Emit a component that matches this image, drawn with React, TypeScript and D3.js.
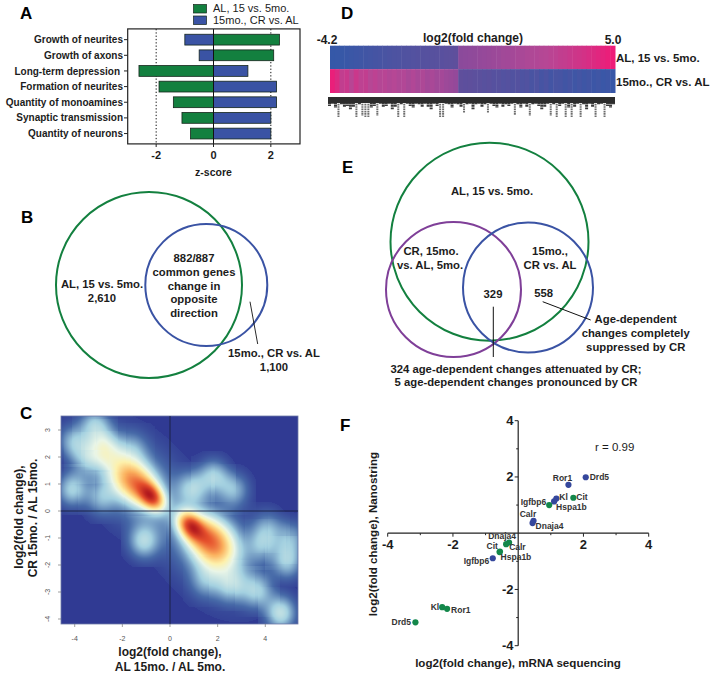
import React, { useMemo } from "react";
import * as d3 from "d3";

const GREEN = "#13803f";
const BLUE = "#3a53a4";
const PURPLE = "#7f3f98";
const FONT = "'Liberation Sans', Arial, sans-serif";
const INK = "#1c1c1c";

// Panel A
const pathways = ["Growth of neurites", "Growth of axons", "Long-term depression", "Formation of neurites", "Quantity of monoamines", "Synaptic transmission", "Quantity of neurons"];
const alAgeZ = [2.3, 2.1, -2.6, -1.9, -1.4, -1.1, -0.8];
const crZ = [-1.0, -0.5, 1.2, 2.2, 2.2, 2.0, 2.0];
const zTicks = [-2, 0, 2];
const legendA = ["AL, 15 vs. 5mo.", "15mo., CR vs. AL"];

// Panel C: density kernels [x, y, amplitude]
const outlierX = [-4.05, -3.15, -2.8, -3.5, -2.6, -4.1, -2.9, -1.1, 1.84, 0.93, 2.68, 3.66, 4.65, 4.93, 5.06, 3.9, 2.6, 1.5, 4.1, -1.6];
const outlierY = [2.58, 3.2, 2.45, 1.96, 2.0, 0.8, 0.48, -1.12, 1.28, 0.85, 0.8, -2.97, -3.78, -1.86, -1.0, -1.25, -2.75, -2.6, -0.6, 2.3];
const outlierA = [0.16, 0.17, 0.17, 0.15, 0.12, 0.2, 0.13, 0.2, 0.19, 0.17, 0.16, 0.17, 0.24, 0.19, 0.15, 0.14, 0.15, 0.1, 0.12, 0.09];
const ridgeX = [-0.76, -1.25, -1.85, -1.5, 0.86, 1.5, 2.05, 1.8];
const ridgeY = [0.52, 0.9, 1.3, 1.1, -0.55, -0.95, -1.4, -1.4];
const ridgeA = [0.6, 0.36, 0.28, 0.16, 0.62, 0.38, 0.3, 0.16];
const ridgeAlong = [0.4, 0.55, 0.55, 1.4, 0.42, 0.6, 0.62, 1.5];
const ridgeAcross = [0.28, 0.46, 0.5, 0.95, 0.3, 0.5, 0.58, 1.0];
const densityStops = [0, 0.08, 0.2, 0.32, 0.42, 0.58, 0.78, 1];
const densityColors = ["#303a93", "#476aa8", "#a3d0e0", "#e9f5e7", "#fdf1ac", "#fbb25f", "#e5502c", "#ad141c"];
const cTicksX = [-4, -2, 0, 2, 4];
const cTicksY = [-4, -3, -2, -1, 0, 1, 2, 3];

// Panel D
const rowTop = [-4.2, -4.1, -4.0, -3.8, -3.6, -3.4, -3.2, -3.0, -2.8, -2.6, -2.4, -2.2, -2.1, -1.9, -1.8, -1.6, -1.5, -1.3, -1.2, -1.1, -1.0, -0.9, -0.8, -0.7, -0.5, -0.4, -0.2, 0.1, 0.2, 0.3, 0.4, 0.6, 0.7, 0.8, 1.0, 1.1, 1.3, 1.4, 1.5, 1.7, 1.8, 2.0, 2.1, 2.2, 2.4, 2.5, 2.7, 2.8, 3.0, 3.1, 3.3, 3.5, 3.6, 3.8, 4.0, 4.2, 4.4, 4.6, 4.8, 5.0];
const rowBottom = [4.8, 4.2, 3.0, 3.3, 2.6, 3.4, 2.8, 3.0, 2.5, 2.8, 2.4, 2.6, 2.2, 2.5, 2.1, 2.3, 1.8, 2.2, 1.7, 2.0, 1.5, 1.8, 1.3, 1.5, 1.1, 0.9, 0.6, -0.1, -0.3, -0.2, -0.4, -0.5, -0.8, -0.6, -1.0, -0.9, -1.3, -1.1, -1.5, -1.2, -1.8, -1.5, -2.2, -1.7, -2.5, -2.0, -2.8, -2.2, -2.4, -3.0, -2.5, -3.2, -2.7, -3.3, -2.9, -3.5, -3.1, -3.7, -3.4, -3.9];
const foldStops = [-4.2, -0.1, 0.1, 2.5, 5];
const foldColors = ["#3558a8", "#5f4f9c", "#8b4a9b", "#b64795", "#ee1c78"];
const geneStems = [8, 6, 10, 18, 7, 9, 8, 11, 9, 18, 7, 17, 18, 18, 10, 8, 17, 6, 9, 8, 6, 11, 9, 18, 7, 18, 6, 8, 10, 6, 7, 9, 6, 9, 11, 6, 8, 18, 18, 6, 7, 10, 6, 7, 9, 14, 7, 6, 11, 7, 6, 9, 7, 14, 6, 8, 10, 6, 9, 7, 8, 6, 16, 7, 10, 6, 9, 17, 7, 6, 8, 11, 9, 6, 17, 7, 18, 8, 6, 18, 10, 18, 9, 6, 18, 7, 11, 6, 9, 18, 7, 6, 18, 8, 10, 7];

// Panel F
const genesBlue = ["Drd5", "Ror1", "Kl", "Hspa1b", "Calr", "Dnaja4", "Igfbp6"];
const blueX = [2.07, 1.54, 1.17, 1.1, 0.47, 0.44, -0.78];
const blueY = [1.99, 1.72, 1.23, 1.13, 0.44, 0.36, -0.89];
const genesGreen = ["Cit", "Igfbp6", "Dnaja4", "Calr", "Cit", "Hspa1b", "Kl", "Ror1", "Drd5"];
const greenX = [1.69, 0.95, -0.28, -0.37, -0.56, -0.57, -2.33, -2.18, -3.15];
const greenY = [1.26, 1.0, -0.33, -0.39, -0.65, -0.67, -2.63, -2.69, -3.17];
const fTicks = [-4, -2, 2, 4];
const fMinor = [-3, -1, 1, 3];

const labelsBlue: [number, number, string][] = [[4, 3, "start"], [-6, -3.6, "middle"], [3, 1, "start"], [2, 9, "start"], [-5.6, -3.6, "middle"], [3, 6, "start"], [-3.6, 6, "end"]];
const labelsGreen: [number, number, string][] = [[3, 2.6, "start"], [-3, 0, "end"], [-7, -3, "middle"], [3, 6, "start"], [-2, -2.6, "end"], [1, 7.6, "start"], [-3, 3, "end"], [4, 4, "start"], [-4.5, 3, "end"]];

const T = (p: any) => <text fontFamily={FONT} fill={INK} fontWeight={700} {...p} />;

function PanelA() {
  const x = d3.scaleLinear().domain([-3, 3]).range([127.5, 299.5]);
  const y = d3.scaleBand<string>().domain(pathways).range([29.4, 143.8]).padding(0.31);
  const yC = (p: string) => y(p)! + y.bandwidth() / 2;
  const bar = (v: number, p: string, c: string) => (
    <rect key={p + c} x={Math.min(x(0), x(v))} width={Math.abs(x(v) - x(0))} y={y(p)} height={y.bandwidth()} fill={c} stroke="#16261c" strokeWidth={0.8} />
  );
  return (
    <g>
      {[-2, 2].map((t) => <line key={t} x1={x(t)} x2={x(t)} y1={29} y2={144} stroke="#111" strokeWidth={1} strokeDasharray="1.3 2" />)}
      {pathways.map((p, i) => bar(alAgeZ[i], p, GREEN))}
      {pathways.map((p, i) => bar(crZ[i], p, BLUE))}
      <line x1={x(0)} x2={x(0)} y1={29} y2={144} stroke="#111" strokeWidth={1} />
      <rect x={127.7} y={28.9} width={172.3} height={115} fill="none" stroke="#222" strokeWidth={1.2} />
      {pathways.map((p) => (
        <g key={p}>
          <line x1={124} x2={127.7} y1={yC(p)} y2={yC(p)} stroke="#222" />
          <T x={p === "Long-term depression" ? 120 : 123} y={yC(p) + 3.6} textAnchor="end" fontSize={10}>{p}</T>
        </g>
      ))}
      {zTicks.map((t) => (
        <g key={t}>
          <line x1={x(t)} x2={x(t)} y1={144} y2={147} stroke="#222" />
          <T x={x(t)} y={159} textAnchor="middle" fontSize={11}>{t}</T>
        </g>
      ))}
      <T x={213.5} y={176} textAnchor="middle" fontSize={10.5}>z-score</T>
      {legendA.map((l, i) => (
        <g key={l}>
          <rect x={193.5} y={4.5 + i * 11.5} width={13} height={8.5} fill={i ? BLUE : GREEN} stroke="#16261c" strokeWidth={0.7} />
          <T x={213} y={12 + i * 11.5} fontSize={11} fontWeight={400}>{l}</T>
        </g>
      ))}
    </g>
  );
}

function PanelB() {
  return (
    <g>
      <circle cx={149} cy={285} r={93} fill="none" stroke={GREEN} strokeWidth={2} />
      <circle cx={206.3} cy={285} r={61} fill="none" stroke={BLUE} strokeWidth={2} />
      <line x1={250} y1={301.7} x2={257.7} y2={344} stroke="#111" strokeWidth={0.9} />
      <T x={102} y={288} textAnchor="middle" fontSize={11.3}>AL, 15 vs. 5mo.</T>
      <T x={102} y={302} textAnchor="middle" fontSize={11.3}>2,610</T>
      {["882/887", "common genes", "change in", "opposite", "direction"].map((s, i) => (
        <T key={s} x={194} y={262 + i * 13.8} textAnchor="middle" fontSize={11.3}>{s}</T>
      ))}
      <T x={274} y={357} textAnchor="middle" fontSize={11.3}>15mo., CR vs. AL</T>
      <T x={274} y={370.5} textAnchor="middle" fontSize={11.3}>1,100</T>
    </g>
  );
}

function PanelC() {
  const x = d3.scaleLinear().domain([-4, 4]).range([74.7, 265.3]);
  const y = d3.scaleLinear().domain([3, -4]).range([430, 619]);
  const L = 61, R = 298, TOP = 416, B = 624;
  const color = d3.scaleLinear<string>().domain(densityStops).range(densityColors).clamp(true);
  const href = useMemo(() => {
    const w = R - L, h = B - TOP;
    const cv = document.createElement("canvas");
    cv.width = w; cv.height = h;
    const ctx = cv.getContext("2d")!;
    const img = ctx.createImageData(w, h);
    const c = Math.cos(Math.atan2(-0.85, 1)), s = Math.sin(Math.atan2(-0.85, 1));
    for (let j = 0; j < h; j++) {
      const vy = y.invert(TOP + j + 0.5);
      for (let i = 0; i < w; i++) {
        const vx = x.invert(L + i + 0.5);
        let d = 0;
        ridgeX.forEach((cx, k) => {
          const dx = vx - cx, dy = vy - ridgeY[k];
          const u = dx * c + dy * s, v = -dx * s + dy * c;
          d += ridgeA[k] * Math.exp(-0.5 * ((u * u) / ridgeAlong[k] ** 2 + (v * v) / ridgeAcross[k] ** 2));
        });
        outlierX.forEach((cx, k) => {
          const dx = vx - cx, dy = vy - outlierY[k];
          if (Math.abs(dx) < 0.95 && Math.abs(dy) < 0.95) d += outlierA[k] * Math.exp(-0.5 * (dx * dx + dy * dy) / 0.19);
        });
        if (d < 0.014) d = 0;
        const rgb = d3.rgb(color(d));
        const o = (j * w + i) * 4;
        img.data[o] = rgb.r; img.data[o + 1] = rgb.g; img.data[o + 2] = rgb.b; img.data[o + 3] = 255;
      }
    }
    ctx.putImageData(img, 0, 0);
    return cv.toDataURL();
  }, []);
  return (
    <g>
      <image href={href} x={L} y={TOP} width={R - L} height={B - TOP} />
      <rect x={L} y={TOP} width={R - L} height={B - TOP} fill="none" stroke="#6f7ca8" strokeWidth={0.8} />
      <line x1={L} x2={R} y1={y(0)} y2={y(0)} stroke="#1a2040" strokeWidth={0.9} />
      <line x1={x(0)} x2={x(0)} y1={TOP} y2={B} stroke="#1a2040" strokeWidth={0.9} />
      {cTicksX.map((t) => (
        <g key={t}>
          <line x1={x(t)} x2={x(t)} y1={B} y2={B + 3} stroke="#777" strokeWidth={0.7} />
          <text x={x(t)} y={641} textAnchor="middle" fontSize={7} fontFamily={FONT} fill="#555">{t}</text>
        </g>
      ))}
      {cTicksY.map((t) => (
        <g key={t}>
          <line x1={L - 3} x2={L} y1={y(t)} y2={y(t)} stroke="#777" strokeWidth={0.7} />
          <text transform={`translate(50,${y(t)}) rotate(-90)`} textAnchor="middle" fontSize={7} fontFamily={FONT} fill="#555">{t}</text>
        </g>
      ))}
      <T x={170} y={656} textAnchor="middle" fontSize={12}>log2(fold change),</T>
      <T x={170} y={671} textAnchor="middle" fontSize={12}>AL 15mo. / AL 5mo.</T>
      <T transform="translate(23,517) rotate(-90)" textAnchor="middle" fontSize={12}>log2(fold change),</T>
      <T transform="translate(37,518) rotate(-90)" textAnchor="middle" fontSize={12}>CR 15mo. / AL 15mo.</T>
    </g>
  );
}

function PanelD() {
  const idx = d3.range(rowTop.length).map(String);
  const x = d3.scaleBand<string>().domain(idx).range([330, 615]);
  const color = d3.scaleLinear<string>().domain(foldStops).range(foldColors);
  const gx = d3.scaleBand<string>().domain(d3.range(geneStems.length).map(String)).range([328, 615]);
  const gy = d3.scaleLinear().domain([0, 18]).range([97, 117]);
  return (
    <g>
      {rowTop.map((v, i) => <rect key={i} x={x(String(i))} width={x.bandwidth() + 0.5} y={45.7} height={23.4} fill={color(v)} />)}
      {rowBottom.map((v, i) => <rect key={i} x={x(String(i))} width={x.bandwidth() + 0.5} y={69.1} height={23.9} fill={color(v)} />)}
      {geneStems.map((v, i) => (
        <line key={i} x1={gx(String(i))! + 1.5} x2={gx(String(i))! + 1.5} y1={97} y2={gy(v)} stroke={v > 12 ? "#6e6e6e" : "#3a3a3a"} strokeWidth={v > 12 ? 2 : 3} strokeDasharray={v > 12 ? "1.6 0.7" : "2 0.6"} />
      ))}
      <rect x={328} y={97} width={287} height={6} fill="#2c2c2c" />
      <T x={327} y={44} textAnchor="middle" fontSize={12}>-4.2</T>
      <T x={473} y={41.5} textAnchor="middle" fontSize={12}>log2(fold change)</T>
      <T x={613} y={44} textAnchor="middle" fontSize={12}>5.0</T>
      <T x={616} y={62} fontSize={11.5}>AL, 15 vs. 5mo.</T>
      <T x={616} y={86} fontSize={11.5}>15mo., CR vs. AL</T>
    </g>
  );
}

function PanelE() {
  return (
    <g>
      <circle cx={489.5} cy={241.7} r={99} fill="none" stroke={GREEN} strokeWidth={2} />
      <circle cx={453.5} cy={289.5} r={67.5} fill="none" stroke={PURPLE} strokeWidth={2} />
      <circle cx={528} cy={287.5} r={65} fill="none" stroke={BLUE} strokeWidth={2} />
      <line x1={493.3} x2={493.3} y1={306.7} y2={357} stroke="#111" strokeWidth={1} />
      <line x1={542.7} y1={301.7} x2={590.7} y2={320} stroke="#111" strokeWidth={1} />
      <T x={492} y={195} textAnchor="middle" fontSize={11.3}>AL, 15 vs. 5mo.</T>
      <T x={431} y={255} textAnchor="middle" fontSize={11.3}>CR, 15mo.</T>
      <T x={430} y={268.7} textAnchor="middle" fontSize={11.3}>vs. AL, 5mo.</T>
      <T x={550} y={255} textAnchor="middle" fontSize={11.3}>15mo.,</T>
      <T x={550} y={268.7} textAnchor="middle" fontSize={11.3}>CR vs. AL</T>
      <T x={493} y={298} textAnchor="middle" fontSize={11.3}>329</T>
      <T x={543.7} y={297} textAnchor="middle" fontSize={11.3}>558</T>
      <T x={635.7} y={323} textAnchor="middle" fontSize={11.3}>Age-dependent</T>
      <T x={635.7} y={337} textAnchor="middle" fontSize={11.3}>changes completely</T>
      <T x={635.7} y={351} textAnchor="middle" fontSize={11.3}>suppressed by CR</T>
      <T x={516} y={372.7} textAnchor="middle" fontSize={11.3}>324 age-dependent changes attenuated by CR;</T>
      <T x={516} y={386.3} textAnchor="middle" fontSize={11.3}>5 age-dependent changes pronounced by CR</T>
    </g>
  );
}

function PanelF() {
  const x = d3.scaleLinear().domain([-4, 4]).range([387.7, 648.7]);
  const y = d3.scaleLinear().domain([4, -4]).range([420.7, 645.7]);
  const pts = (names: string[], xs: number[], ys: number[], labs: [number, number, string][], c: string) =>
    names.map((n, i) => (
      <g key={c + i}>
        <circle cx={x(xs[i])} cy={y(ys[i])} r={3.1} fill={c} />
        <T x={x(xs[i]) + labs[i][0]} y={y(ys[i]) + labs[i][1]} textAnchor={labs[i][2]} fontSize={8.5} fill="#333">{n}</T>
      </g>
    ));
  return (
    <g>
      <line x1={x(-4)} x2={x(4)} y1={y(0)} y2={y(0)} stroke="#222" strokeWidth={1.2} />
      <line x1={x(0)} x2={x(0)} y1={y(4)} y2={y(-4)} stroke="#222" strokeWidth={1.2} />
      {fTicks.map((t) => (
        <g key={t}>
          <line x1={x(t)} x2={x(t)} y1={y(0)} y2={y(0) + 3.5} stroke="#222" />
          <line x1={x(0) - 3.5} x2={x(0)} y1={y(t)} y2={y(t)} stroke="#222" />
          <T x={x(t)} y={549} textAnchor="middle" fontSize={13}>{t}</T>
          <T x={513.5} y={y(t) + 4.5} textAnchor="end" fontSize={13}>{t}</T>
        </g>
      ))}
      {fMinor.map((t) => (
        <g key={t}>
          <line x1={x(t)} x2={x(t)} y1={y(0)} y2={y(0) + 2} stroke="#222" />
          <line x1={x(0) - 2} x2={x(0)} y1={y(t)} y2={y(t)} stroke="#222" />
        </g>
      ))}
      {pts(genesBlue, blueX, blueY, labelsBlue, "#35479c")}
      {pts(genesGreen, greenX, greenY, labelsGreen, "#13874a")}
      <T x={595} y={451} fontSize={11.5} fontWeight={400}>r = 0.99</T>
      <T x={518} y={667} textAnchor="middle" fontSize={11.6}>log2(fold change), mRNA sequencing</T>
      <T transform="translate(377,534) rotate(-90)" textAnchor="middle" fontSize={11.6}>log2(fold change), Nanostring</T>
    </g>
  );
}

export default function App() {
  const heads: [string, number, number][] = [["A", 20, 19], ["B", 21, 223], ["C", 20, 419], ["D", 341, 19], ["E", 342, 173], ["F", 340, 431]];
  return (
    <svg width={712} height={676} viewBox="0 0 712 676" style={{ position: "absolute", left: 0, top: 0, background: "#fff" }}>
      <PanelA />
      <PanelB />
      <PanelC />
      <PanelD />
      <PanelE />
      <PanelF />
      {heads.map(([s, hx, hy]) => <T key={s} x={hx} y={hy} fontSize={17} fill="#000">{s}</T>)}
    </svg>
  );
}
